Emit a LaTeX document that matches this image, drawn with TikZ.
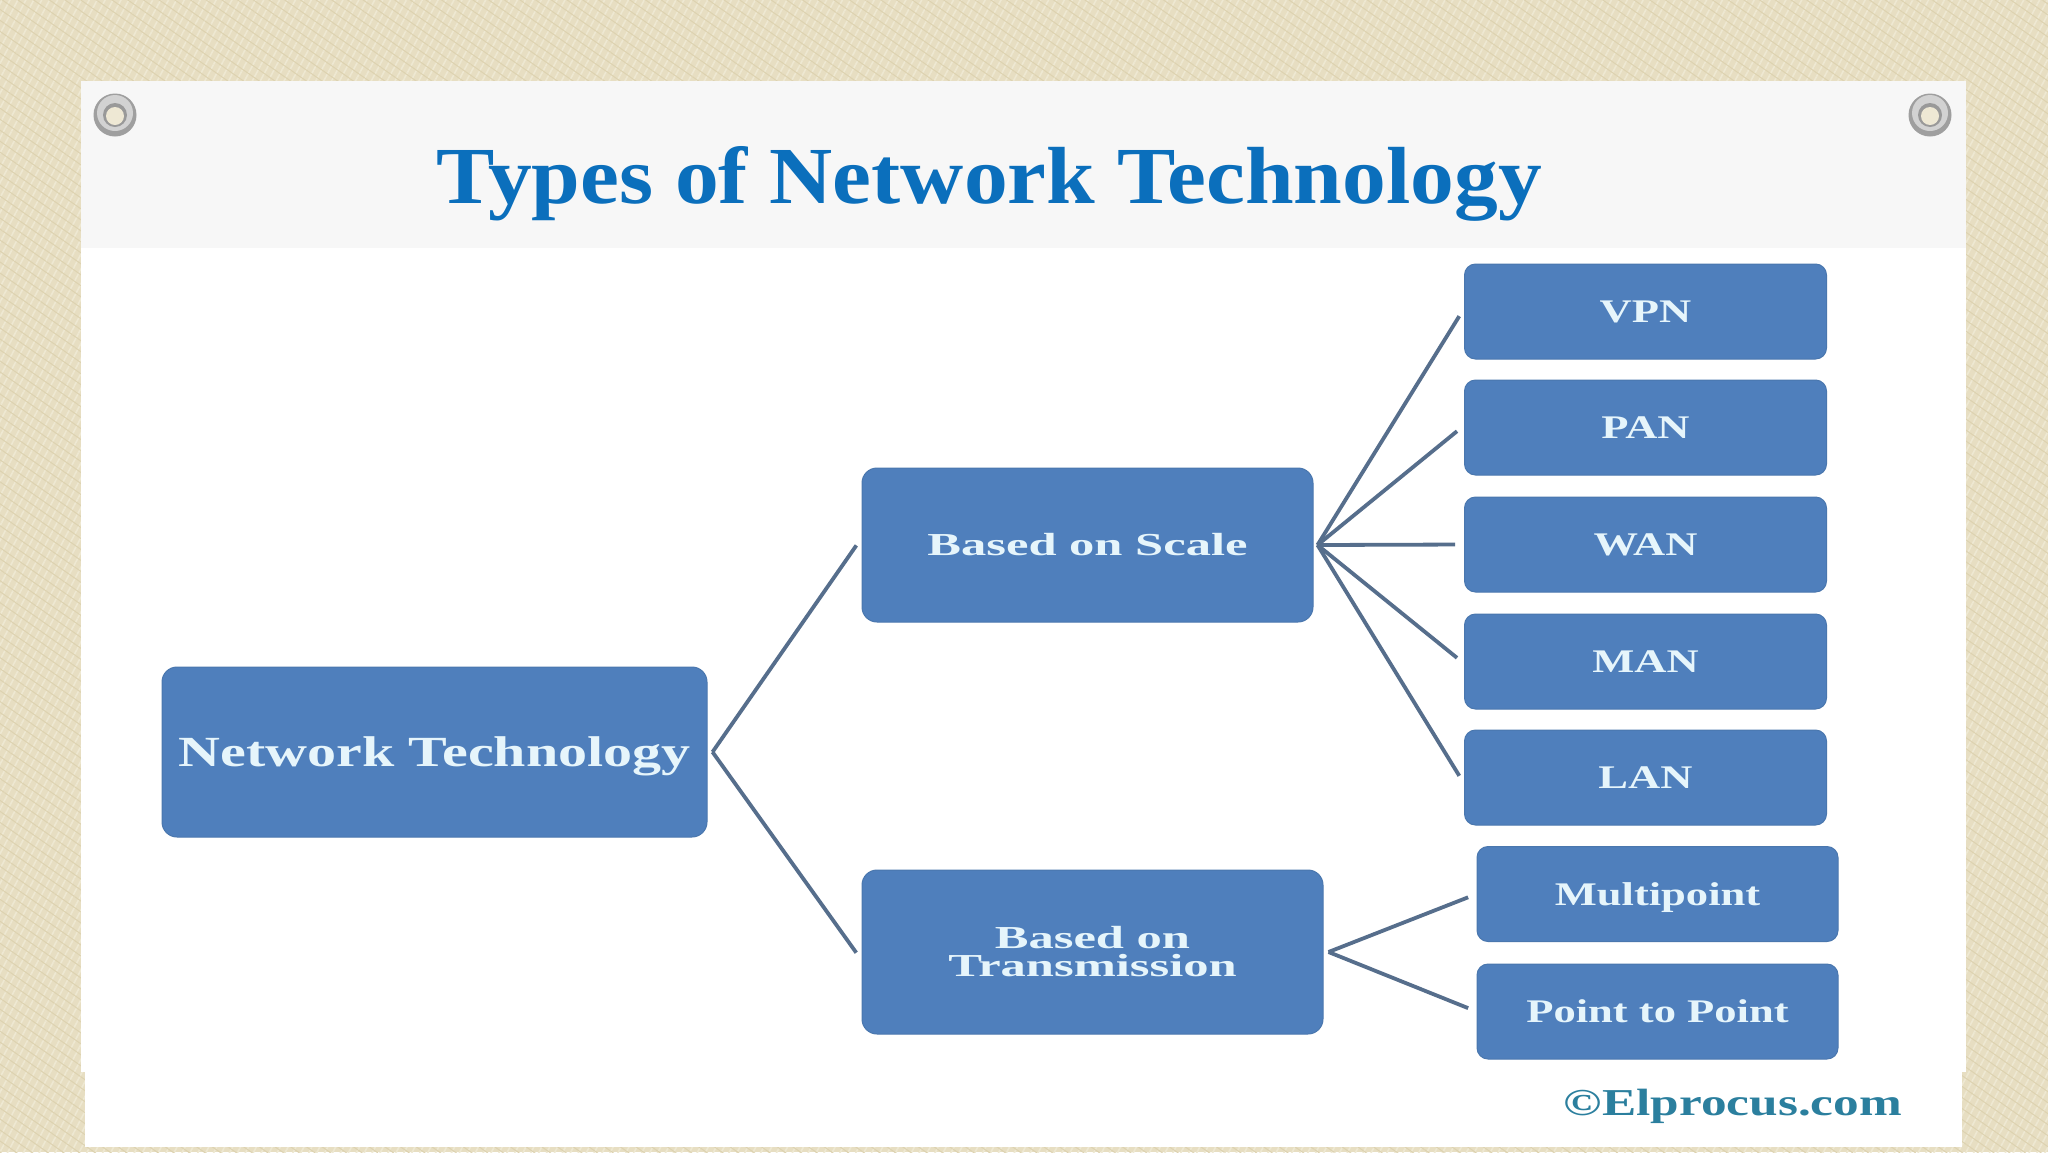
\documentclass[tikz,border=0pt]{standalone}
\usepackage{fontspec}
\usepackage{tikz}
\usetikzlibrary{patterns.meta}
\setmainfont{Liberation Serif}
\newfontfamily\titlefont[FakeStretch=1.08]{Liberation Serif}
\newfontfamily\boxfont[FakeStretch=1.35]{Liberation Serif}
\newfontfamily\widefont[FakeStretch=1.58]{Liberation Serif}
\definecolor{canvas}{HTML}{E7DEC2}
\definecolor{canvaslight}{HTML}{EEE8D2}
\definecolor{canvasdark}{HTML}{DDD2B0}
\definecolor{band}{HTML}{F7F7F7}
\definecolor{boxblue}{HTML}{4F7FBC}
\definecolor{boxedge}{HTML}{4A77AE}
\definecolor{boxtext}{HTML}{E6F5FB}
\definecolor{linkgrey}{HTML}{566E8C}
\definecolor{titleblue}{HTML}{0B6FBC}
\definecolor{marktext}{HTML}{2B7F9E}
\tikzset{
    treebox/.style={draw=boxedge, line width=1pt, fill=boxblue, rounded corners=15pt, text=boxtext,
        font=\widefont\bfseries\fontsize{32}{28}\selectfont, align=center, inner sep=0pt},
    leafbox/.style={treebox, minimum width=362pt, minimum height=95pt, rounded corners=11pt,
        font=\boxfont\bfseries\fontsize{33}{35}\selectfont, text depth=0pt},
    link/.style={draw=linkgrey, line width=3.8pt, shorten >=9pt}
}

\begin{document}
\begin{tikzpicture}[x=1pt, y=-1pt]
\useasboundingbox (0,0) rectangle (2048,1152);
% Cloth and paper
\fill[canvas] (0,0) rectangle (2048,1152);
\fill[pattern={Lines[angle=62, distance=7pt, line width=1.6pt]}, pattern color=canvaslight] (0,0) rectangle (2048,1152);
\fill[pattern={Lines[angle=-35, distance=9pt, line width=1pt]}, pattern color=canvasdark] (0,0) rectangle (2048,1152);
\fill[white] (81,81) rectangle (1966,1072);
\fill[white] (85,1072) rectangle (1962,1147);
\fill[band] (81,81) rectangle (1966,248);
% Eyelets
\foreach \x in {115,1930} {
    \fill[gray!75] (\x,115) circle (21.5);
    \fill[gray!35] (\x,113) circle (18);
    \fill[gray!80] (\x,115) circle (12);
    \fill[canvas!70!white] (\x,116) circle (9);
}
% Title
\node[text=titleblue, font=\titlefont\bfseries\fontsize{81}{85}\selectfont] (title) at (989,184) {Types of Network Technology};
% Tree nodes
\node[treebox, minimum width=545pt, minimum height=170pt, text depth=0pt, font=\boxfont\bfseries\fontsize{43}{45}\selectfont] (network) at (434.5,752) {Network Technology};
\node[treebox, minimum width=451pt, minimum height=154pt] (scale) at (1087.5,545) {Based on Scale};
\node[treebox, minimum width=461pt, minimum height=164pt] (transmission) at (1092.5,952) {Based on\\Transmission};
% Leaves of each branch
\foreach \name/\txt/\y in {vpn/VPN/311.5, pan/PAN/427.5, wan/WAN/544.5, man/MAN/661.5, lan/LAN/777.5}
    \node[leafbox] (\name) at (1645.5,\y) {\txt};
\foreach \name/\txt/\y in {multipoint/Multipoint/894, pointtopoint/Point to Point/1011.5}
    \node[leafbox, minimum width=361pt] (\name) at (1657.5,\y) {\txt};
\node[text=marktext, font=\boxfont\bfseries\fontsize{38}{40}\selectfont] (mark) at (1733,1106) {©Elprocus.com};
% Connectors
\foreach \y/\s in {scale/7,transmission/-8}
    \draw[link] ([xshift=5pt]network.east) -- ([yshift=\s pt]\y.west);
\foreach \y/\s in {vpn/3,pan/2,wan/0,man/-2,lan/-6}
    \draw[link] ([xshift=4pt]scale.east) -- ([yshift=\s pt]\y.west);
\foreach \y in {multipoint,pointtopoint}
    \draw[link] ([xshift=5pt]transmission.east) -- (\y.west);
\end{tikzpicture}
\end{document}
